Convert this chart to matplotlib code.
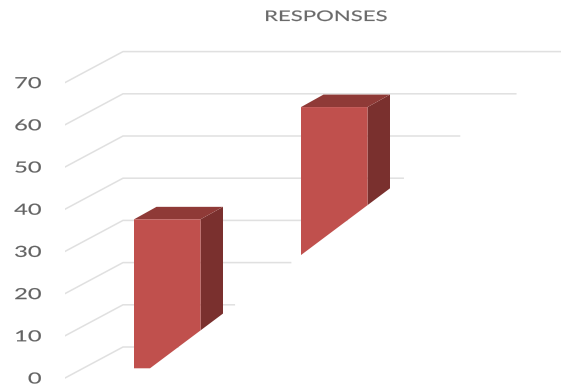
import matplotlib
matplotlib.use("Agg")
import matplotlib.pyplot as plt
from matplotlib.patches import Polygon
from matplotlib.patheffects import AbstractPathEffect
from matplotlib.transforms import Affine2D

title = "RESPONSES"
tick_values = [0, 10, 20, 30, 40, 50, 60, 70]
bar_slots = [0, 1]
bar_values = [35.3, 61.9]

W, H = 561, 387
PX = 4.22                # pixels per value unit
ZERO_PY = 378            # pixel row of value 0 at the front of the wall
LEFT = 65


class StretchX(AbstractPathEffect):
    """Widen real text about a fixed pixel column, as in the reference."""
    def __init__(self, cx, sx, dy=0.0, stroke=0.12):
        super().__init__()
        self.cx, self.sx, self.dy, self.stroke = cx, sx, dy, stroke

    def draw_path(self, renderer, gc, tpath, affine, rgbFace=None):
        t = (affine + Affine2D().translate(-self.cx, 0).scale(self.sx, 1)
             .translate(self.cx, self.dy))
        gc0 = renderer.new_gc()
        gc0.copy_properties(gc)
        gc0.set_linewidth(self.stroke)
        gc0.set_foreground(rgbFace)
        renderer.draw_path(gc0, tpath, t, rgbFace)
        gc0.restore()


def to_val(py):
    return (ZERO_PY - py) / PX


fig = plt.figure(figsize=(W / 100, H / 100), dpi=100, facecolor="white")
ax = fig.add_axes([LEFT / W, 0, 1 - LEFT / W, 1])
ax.set_xlim(LEFT, W)
ax.set_ylim(to_val(H), to_val(0))
for s in ax.spines.values():
    s.set_visible(False)
ax.set_xticks([])
ax.set_yticks(tick_values)
ax.set_yticklabels([str(v) for v in tick_values])
ax.tick_params(axis="y", length=0, pad=16.6)
for lab in ax.get_yticklabels():
    lab.set(family="Lato", fontsize=11, color="#636363", va="center")
    lab.set_path_effects([StretchX(42.5, 1.55, dy=-1.5)])

# wall and floor gridlines
WALL_X = 123
WALL_LIFT = 31 / PX
GRID_END0, GRID_END_SLOPE = 178, 5.63
for v in tick_values:
    end = GRID_END0 + GRID_END_SLOPE * v
    ax.plot([LEFT, WALL_X, end], [v, v + WALL_LIFT, v + WALL_LIFT],
            color="#E0E0E0", lw=1.1, zorder=1, clip_on=True,
            solid_joinstyle="miter")

# bars in the sheared 3D projection
BAR_X0, BAR_STEP, BAR_W = 134, 167, 66.5
DEPTH_X, DEPTH_Y = 22.5, 12.5 / PX
BASE = to_val(368.3)
LIFT = to_val(368.3)


def floor(x):
    return to_val(368.3 - 0.75 * (x - 150))


for slot, val in zip(bar_slots, bar_values):
    L = BAR_X0 + BAR_STEP * slot
    R = L + BAR_W
    top = val + LIFT
    front = [(L, top), (R, top), (R, floor(R))]
    if floor(L) < BASE:
        front += [(150, BASE), (L, BASE)]
    else:
        front += [(L, floor(L))]
    side = [(R, top), (R + DEPTH_X, top + DEPTH_Y),
            (R + DEPTH_X, floor(R + DEPTH_X)), (R, floor(R))]
    cap = [(L, top), (L + DEPTH_X, top + DEPTH_Y),
           (R + DEPTH_X, top + DEPTH_Y), (R, top)]
    ax.add_patch(Polygon(side, closed=True, fc="#7A302E", ec="none", zorder=3))
    ax.add_patch(Polygon(cap, closed=True, fc="#8F3A37", ec="none", zorder=3))
    ax.add_patch(Polygon(front, closed=True, fc="#C0504D", ec="none", zorder=4))

ax.text(326, to_val(16), title, family="Lato", fontsize=10.5, color="#6A6A6A",
        ha="center", va="center", path_effects=[StretchX(326, 1.52, dy=-1.0)])

fig.savefig("out.png", dpi=100)
